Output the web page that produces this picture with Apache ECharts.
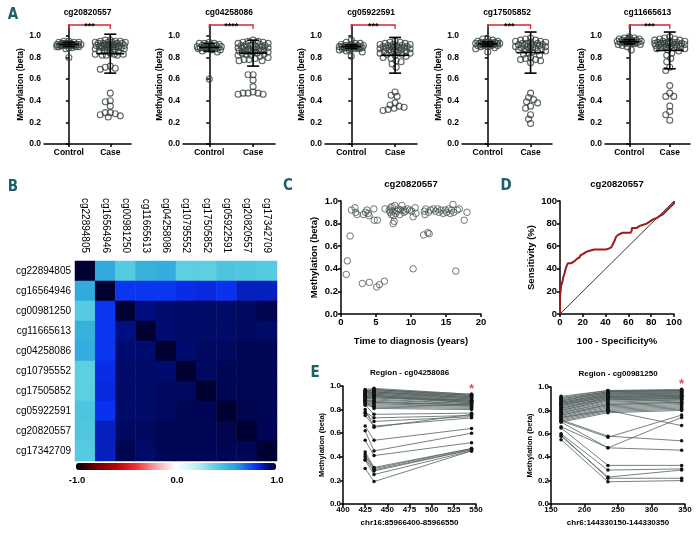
<!DOCTYPE html>
<html><head><meta charset="utf-8">
<script src="https://cdn.jsdelivr.net/npm/echarts@6/dist/echarts.min.js"></script>
<style>html,body{margin:0;padding:0;background:#fff}#c{width:698px;height:533px}</style>
</head><body><div id="c"></div>
<script>
// ---------- DATA ----------
const groupLabels = ['Control', 'Case'];
const aTitles = ['cg20820557', 'cg04258086', 'cg05922591', 'cg17505852', 'cg11665613'];
const sigLabels = ['***', '****', '***', '***', '***'];

const control_cg20820557 = [0.80,0.88,0.89,0.89,0.90,0.90,0.90,0.91,0.91,0.91,0.91,0.92,0.92,0.92,0.92,0.92,0.93,0.93,0.93,0.93,0.94,0.94,0.94,0.95,0.95,0.90,0.91,0.92,0.93,0.91];
const case_cg20820557 = [0.25,0.26,0.27,0.28,0.29,0.29,0.35,0.39,0.40,0.47,0.69,0.70,0.71,0.72,0.82,0.82,0.82,0.83,0.83,0.83,0.84,0.85,0.86,0.86,0.87,0.87,0.88,0.88,0.88,0.89,0.89,0.89,0.89,0.90,0.90,0.90,0.90,0.90,0.91,0.91,0.91,0.91,0.91,0.92,0.92,0.92,0.92,0.92,0.93,0.93,0.93,0.93,0.94,0.94,0.94,0.94,0.95,0.95,0.95,0.96,0.96];
const control_cg04258086 = [0.60,0.85,0.86,0.87,0.87,0.88,0.88,0.88,0.89,0.89,0.89,0.89,0.90,0.90,0.90,0.90,0.91,0.91,0.91,0.92,0.92,0.93,0.93,0.93,0.94,0.88,0.90,0.89];
const case_cg04258086 = [0.46,0.46,0.47,0.47,0.47,0.48,0.53,0.59,0.64,0.64,0.77,0.77,0.78,0.78,0.79,0.80,0.81,0.82,0.82,0.83,0.83,0.84,0.84,0.85,0.85,0.85,0.86,0.86,0.86,0.87,0.87,0.87,0.88,0.88,0.88,0.89,0.89,0.89,0.90,0.90,0.90,0.91,0.91,0.91,0.92,0.92,0.92,0.93,0.93,0.94,0.94,0.95,0.95,0.96];
const control_cg05922591 = [0.81,0.85,0.86,0.87,0.87,0.88,0.88,0.88,0.89,0.89,0.89,0.89,0.90,0.90,0.90,0.90,0.90,0.91,0.91,0.91,0.91,0.92,0.92,0.93,0.93,0.94,0.96,0.89,0.90,0.88];
const case_cg05922591 = [0.31,0.32,0.33,0.34,0.35,0.36,0.38,0.44,0.45,0.48,0.71,0.74,0.76,0.77,0.79,0.80,0.81,0.82,0.83,0.83,0.84,0.84,0.85,0.85,0.86,0.86,0.86,0.87,0.87,0.87,0.88,0.88,0.88,0.89,0.89,0.89,0.90,0.90,0.90,0.90,0.91,0.91,0.91,0.92,0.92,0.92,0.93,0.93,0.94,0.94,0.95];
const control_cg17505852 = [0.85,0.88,0.89,0.90,0.90,0.91,0.91,0.91,0.92,0.92,0.92,0.92,0.93,0.93,0.93,0.93,0.93,0.94,0.94,0.94,0.94,0.95,0.95,0.96,0.97,0.97,0.92,0.93,0.91,0.94];
const case_cg17505852 = [0.19,0.23,0.27,0.33,0.35,0.38,0.39,0.41,0.43,0.47,0.75,0.77,0.78,0.78,0.79,0.80,0.82,0.83,0.84,0.85,0.86,0.86,0.87,0.87,0.88,0.88,0.89,0.89,0.89,0.90,0.90,0.90,0.91,0.91,0.91,0.92,0.92,0.92,0.93,0.93,0.93,0.94,0.94,0.95,0.95,0.96,0.96,0.97,0.98];
const control_cg11665613 = [0.87,0.90,0.91,0.92,0.92,0.93,0.93,0.93,0.94,0.94,0.94,0.94,0.95,0.95,0.95,0.95,0.96,0.96,0.96,0.97,0.97,0.98,0.98,0.99,0.94,0.95,0.93,0.96];
const case_cg11665613 = [0.22,0.27,0.30,0.35,0.44,0.44,0.47,0.54,0.68,0.71,0.76,0.79,0.82,0.84,0.86,0.87,0.88,0.88,0.89,0.89,0.90,0.90,0.90,0.91,0.91,0.91,0.92,0.92,0.92,0.93,0.93,0.93,0.93,0.94,0.94,0.94,0.95,0.95,0.95,0.96,0.96,0.97,0.97,0.98,0.99,0.90,0.92,0.94,0.91,0.93];

const meanControl = [0.92, 0.893, 0.90, 0.925, 0.945];
const sdControl   = [0.02, 0.037, 0.017, 0.02, 0.02];
const meanCase    = [0.835, 0.84, 0.82, 0.845, 0.865];
const sdCase      = [0.18, 0.12, 0.165, 0.19, 0.17];

const hmLabels = ['cg22894805','cg16564946','cg00981250','cg11665613','cg04258086','cg10795552','cg17505852','cg05922591','cg20820557','cg17342709'];
const corrMatrix = [
  [1.00,0.56,0.42,0.53,0.55,0.40,0.40,0.45,0.44,0.42],
  [0.56,1.00,0.79,0.79,0.79,0.81,0.82,0.80,0.85,0.85],
  [0.42,0.79,1.00,0.91,0.93,0.94,0.94,0.94,0.95,0.97],
  [0.53,0.79,0.91,1.00,0.93,0.94,0.94,0.94,0.95,0.94],
  [0.55,0.79,0.93,0.93,1.00,0.93,0.95,0.95,0.96,0.96],
  [0.40,0.81,0.94,0.94,0.93,1.00,0.95,0.96,0.96,0.96],
  [0.40,0.82,0.94,0.94,0.95,0.95,1.00,0.96,0.96,0.96],
  [0.45,0.80,0.94,0.94,0.95,0.96,0.96,1.00,0.97,0.96],
  [0.44,0.85,0.95,0.95,0.96,0.96,0.96,0.97,1.00,0.96],
  [0.42,0.85,0.97,0.94,0.96,0.96,0.96,0.96,0.96,1.00]
];
const colorbarTicks = ['-1.0', '0.0', '1.0'];

const cTime = [0.75,0.9,1.3,1.5,2.0,2.1,2.3,3.05,3.2,3.5,3.7,3.9,4.0,4.05,4.7,4.75,5.1,5.2,5.5,6.2,6.3,6.9,7.0,7.1,7.2,7.3,7.4,7.45,7.5,7.6,7.7,7.8,8.0,8.2,8.4,8.5,8.7,8.9,9.0,9.2,9.5,9.8,10.1,10.3,10.3,10.6,10.7,11.8,11.9,12.0,12.1,12.4,12.5,12.6,12.8,13.2,13.5,13.8,14.0,14.3,14.6,14.9,15.1,15.4,15.6,15.8,16.0,16.1,16.4,16.6,16.9,17.6,18.0];
const cBeta = [0.35,0.47,0.69,0.92,0.94,0.90,0.88,0.27,0.88,0.90,0.92,0.89,0.87,0.28,0.93,0.83,0.24,0.83,0.26,0.29,0.93,0.92,0.90,0.94,0.88,0.95,0.91,0.80,0.87,0.82,0.96,0.89,0.91,0.93,0.88,0.92,0.96,0.92,0.90,0.91,0.93,0.92,0.91,0.86,0.40,0.94,0.89,0.70,0.91,0.88,0.93,0.72,0.90,0.71,0.92,0.93,0.91,0.93,0.90,0.92,0.89,0.92,0.90,0.93,0.89,0.92,0.97,0.90,0.38,0.92,0.93,0.83,0.90];

const rocFpr = [0,0,0.5,0.5,1,1,2,2,3,3,4,4,5,5,6,6,7,7,10,10,13,15,17,18,20,23,26,30,35,40,43,45,46,47,48,49,51,53,55,62,63,63,67,68,70,73,76,79,82,85,88,90,92,94,96,97,98,99,100,100];
const rocTpr = [0,15,15,20,20,25,25,28,28,33,33,36,36,40,40,43,43,45,45,46,47,49,50,52,53,55,56,57,57,57,58,59,61,62,65,68,70,71,72,72,74,76,76,77,78,79,80,82,84,85,87,88,90,92,94,95,96,97,98,100];
const refDiag = [[0,0],[100,100]];

const eLeftPos = [425, 435, 545];
const eL_425 = [0.97,0.96,0.96,0.95,0.95,0.94,0.94,0.93,0.93,0.92,0.92,0.91,0.91,0.90,0.90,0.89,0.89,0.88,0.88,0.87,0.86,0.86,0.85,0.84,0.90,0.93,0.95,0.88,0.91,0.87,0.84,0.78,0.77,0.75,0.80,0.66,0.62,0.54,0.44,0.42,0.40,0.38,0.37,0.30];
const eL_435 = [0.98,0.97,0.97,0.96,0.96,0.95,0.95,0.94,0.94,0.93,0.93,0.92,0.92,0.91,0.91,0.90,0.89,0.88,0.87,0.86,0.85,0.84,0.83,0.82,0.90,0.95,0.97,0.86,0.92,0.81,0.76,0.73,0.70,0.66,0.65,0.54,0.45,0.41,0.31,0.30,0.29,0.28,0.25,0.19];
const eL_545 = [0.93,0.93,0.92,0.92,0.91,0.91,0.90,0.90,0.89,0.89,0.88,0.88,0.87,0.87,0.86,0.86,0.85,0.85,0.84,0.84,0.83,0.83,0.82,0.81,0.88,0.90,0.92,0.84,0.86,0.80,0.77,0.75,0.74,0.73,0.76,0.64,0.60,0.52,0.47,0.47,0.46,0.46,0.45,0.45];
const eRightPos = [165, 235, 345];
const eR_165 = [0.92,0.91,0.90,0.90,0.89,0.88,0.87,0.87,0.86,0.85,0.85,0.84,0.83,0.82,0.82,0.81,0.80,0.79,0.78,0.78,0.77,0.76,0.75,0.74,0.73,0.72,0.71,0.70,0.88,0.86,0.84,0.80,0.76,0.74,0.72,0.71,0.70,0.66,0.65,0.60,0.58,0.59,0.55];
const eR_235 = [0.97,0.97,0.96,0.96,0.95,0.95,0.94,0.94,0.93,0.93,0.92,0.92,0.91,0.91,0.90,0.90,0.89,0.88,0.87,0.86,0.85,0.84,0.83,0.82,0.81,0.80,0.79,0.78,0.96,0.94,0.92,0.89,0.85,0.80,0.58,0.57,0.48,0.48,0.33,0.29,0.23,0.22,0.19];
const eR_345 = [0.98,0.97,0.97,0.96,0.96,0.95,0.95,0.94,0.94,0.93,0.93,0.92,0.92,0.91,0.91,0.90,0.90,0.89,0.89,0.88,0.87,0.86,0.85,0.84,0.83,0.82,0.81,0.80,0.97,0.95,0.93,0.90,0.87,0.67,0.54,0.76,0.74,0.46,0.33,0.30,0.29,0.22,0.20];
const eLeftStar = [[545, 0.995]];
const eRightStar = [[345, 1.045]];

// ---------- STYLE / LAYOUT ----------
const FONT = "'Liberation Sans', Arial, sans-serif";
const TEAL = '#1d6167';
const AX = {color:'#000', width:1.5};
const heatColors = ['#0a0000','#3a0000','#6a0000','#900000','#b80000','#d81818','#f03030','#f46868','#f8a8a8','#fcd4d4','#ffffff',
                    '#e0f8f8','#c0f0f2','#90e0ea','#5ccfe0','#40b8de','#28a0dc','#1868e6','#0a30f0','#00108a','#000033'];

const option = {animation:false, grid:[], xAxis:[], yAxis:[], series:[], graphic:[], visualMap:[]};
function txt(x, y, text, size, weight, color, family) {
  option.graphic.push({type:'text', x:x, y:y, silent:true, style:{text:text, fontSize:size, fontWeight:weight||'normal', fontFamily:family||FONT, fill:color||'#000', align:'center', verticalAlign:'middle'}});
}
function lbl(size){ return {color:'#000', fontSize:size, fontWeight:'bold', fontFamily:FONT}; }

function swarm(vals, pxY, maxHalf, D) {
  const idx = vals.map((v,i)=>i).sort((a,b)=>vals[b]-vals[a]);
  const placed = [], off = new Array(vals.length);
  for (const i of idx) {
    const y = vals[i]*pxY;
    let best = 0, bestScore = -1;
    for (let k = 0; k <= 2*maxHalf; k++) {
      const o = k === 0 ? 0 : (k % 2 ? -(k+1)/2 : k/2);
      let md = Infinity;
      for (const p of placed) { const d = Math.hypot(p[0]-o, p[1]-y); if (d < md) md = d; }
      if (md >= D) { best = o; bestScore = md; break; }
      if (md > bestScore + 0.3) { bestScore = md; best = o; }
    }
    off[i] = best; placed.push([best, y]);
  }
  return off;
}

// ---------- PANEL A ----------
const aControls = [control_cg20820557, control_cg04258086, control_cg05922591, control_cg17505852, control_cg11665613];
const aCases = [case_cg20820557, case_cg04258086, case_cg05922591, case_cg17505852, case_cg11665613];
const aLayout = [[44,87],[183,92],[325,92],[462,90],[605,85]];
const aTop = 25, aH = 119, aYMax = 1.1, aXMin = -0.6, aXMax = 1.5;
const yTicksA = [0,0.2,0.4,0.6,0.8,1.0];
aLayout.forEach(([gl, gw], i) => {
  const g = option.grid.length;
  option.grid.push({left:gl, top:aTop, width:gw, height:aH});
  option.xAxis.push({gridIndex:g, type:'value', min:aXMin, max:aXMax,
    axisLine:{lineStyle:AX}, splitLine:{show:false},
    axisTick:{customValues:[0,1], length:3, lineStyle:AX},
    axisLabel:{customValues:[0,1], formatter:v=>groupLabels[Math.round(v)], margin:4, ...lbl(8.5)}});
  option.yAxis.push({gridIndex:g, type:'value', min:0, max:aYMax,
    name:'Methylation (beta)', nameLocation:'middle', nameGap:19, nameTextStyle:lbl(8.5),
    axisLine:{show:true, lineStyle:AX}, splitLine:{show:false},
    axisTick:{show:true, customValues:yTicksA, length:3, lineStyle:AX},
    axisLabel:{customValues:yTicksA, formatter:v=>v.toFixed(1), margin:3, ...lbl(8.5)}});
  const pxX = gw/(aXMax-aXMin), pxY = aH/aYMax;
  const ctrl = aControls[i], cas = aCases[i];
  const offC = swarm(ctrl, pxY, 12, 4.6), offK = swarm(cas, pxY, 15, 4.6);
  const pts = ctrl.map((v,j)=>[offC[j]/pxX, v]).concat(cas.map((v,j)=>[1+offK[j]/pxX, v]));
  option.series.push({type:'scatter', xAxisIndex:g, yAxisIndex:g, data:pts, symbol:'circle', symbolSize:6,
    itemStyle:{color:'rgba(255,255,255,0)', borderColor:'#33403f', borderWidth:1.1}, silent:true, z:2});
  option.series.push({type:'custom', xAxisIndex:g, yAxisIndex:g, z:5, silent:true,
    encode:{x:0, y:1},
    data:[[0, meanControl[i], sdControl[i], 10, 6],[1, meanCase[i], sdCase[i], 14, 6]],
    renderItem:(params, api) => {
      const x = api.value(0), m = api.value(1), s = api.value(2), hw = api.value(3), cw = api.value(4);
      const pm = api.coord([x,m]), pt = api.coord([x,m+s]), pb = api.coord([x,m-s]);
      const st = {stroke:'#000', lineWidth:1.6};
      return {type:'group', children:[
        {type:'line', shape:{x1:pm[0]-hw,y1:pm[1],x2:pm[0]+hw,y2:pm[1]}, style:st},
        {type:'line', shape:{x1:pt[0],y1:pt[1],x2:pb[0],y2:pb[1]}, style:st},
        {type:'line', shape:{x1:pt[0]-cw,y1:pt[1],x2:pt[0]+cw,y2:pt[1]}, style:st},
        {type:'line', shape:{x1:pb[0]-cw,y1:pb[1],x2:pb[0]+cw,y2:pb[1]}, style:st}
      ]};
    }});
  const sig = sigLabels[i];
  option.series.push({type:'custom', xAxisIndex:g, yAxisIndex:g, z:6, silent:true, clip:false,
    encode:{x:0, y:1}, data:[[0.5, aYMax]],
    renderItem:(params, api) => {
      const a = api.coord([0, aYMax]), b = api.coord([1, aYMax]);
      return {type:'group', children:[
        {type:'polyline', shape:{points:[[a[0],a[1]+4],[a[0],a[1]],[b[0],b[1]],[b[0],b[1]+4]]}, style:{stroke:'#d8262a', lineWidth:1.3, fill:null}},
        {type:'text', style:{text:sig, x:(a[0]+b[0])/2, y:a[1]+1.5, align:'center', verticalAlign:'middle', fontSize:9, fontWeight:'bold', fontFamily:FONT, fill:'#000'}}
      ]};
    }});
  txt(gl + gw/2, 13, aTitles[i], 8.5, 'bold');
});

// ---------- PANEL B ----------
{
  const g = option.grid.length;
  option.grid.push({left:75, top:261, width:202, height:200});
  option.xAxis.push({gridIndex:g, type:'category', data:hmLabels, position:'top',
    axisLine:{show:false}, axisTick:{show:false}, splitLine:{show:false},
    axisLabel:{rotate:90, margin:8, color:'#000', fontSize:10, fontFamily:FONT, interval:0}});
  option.yAxis.push({gridIndex:g, type:'category', data:hmLabels, inverse:true,
    axisLine:{show:false}, axisTick:{show:false}, splitLine:{show:false},
    axisLabel:{margin:4, color:'#000', fontSize:10, fontFamily:FONT, interval:0}});
  const hm = [];
  corrMatrix.forEach((row, r) => row.forEach((v, c) => hm.push([c, r, v])));
  const si = option.series.length;
  option.series.push({type:'heatmap', xAxisIndex:g, yAxisIndex:g, data:hm, silent:true, emphasis:{disabled:true}, itemStyle:{borderWidth:0}});
  option.visualMap.push({type:'continuous', min:-1, max:1, seriesIndex:si, orient:'horizontal',
    left:76, top:463, itemWidth:7, itemHeight:200, calculable:false, padding:0, text:null, hoverLink:false,
    inRange:{color:heatColors}});
  txt(77, 480, colorbarTicks[0], 9.5, 'bold');
  txt(177, 480, colorbarTicks[1], 9.5, 'bold');
  txt(277, 480, colorbarTicks[2], 9.5, 'bold');
}

// ---------- PANEL C ----------
{
  const g = option.grid.length;
  option.grid.push({left:341, top:201, width:140, height:113});
  option.xAxis.push({gridIndex:g, type:'value', min:0, max:20, interval:5,
    name:'Time to diagnosis (years)', nameLocation:'middle', nameGap:22, nameTextStyle:lbl(9.5),
    axisLine:{lineStyle:AX}, axisTick:{length:3, lineStyle:AX}, splitLine:{show:false},
    axisLabel:{margin:3, ...lbl(9.5)}});
  option.yAxis.push({gridIndex:g, type:'value', min:0, max:1, interval:0.2,
    name:'Methylation (beta)', nameLocation:'middle', nameGap:22, nameTextStyle:lbl(9.5),
    axisLine:{show:true, lineStyle:AX}, axisTick:{show:true, length:3, lineStyle:AX}, splitLine:{show:false},
    axisLabel:{margin:3, formatter:v=>v.toFixed(1), ...lbl(9.5)}});
  option.series.push({type:'scatter', xAxisIndex:g, yAxisIndex:g, data:cTime.map((t,i)=>[t, cBeta[i]]),
    symbolSize:6.5, itemStyle:{color:'rgba(255,255,255,0)', borderColor:'#4a5656', borderWidth:1}, silent:true});
  txt(411, 184, 'cg20820557', 9.5, 'bold');
}

// ---------- PANEL D ----------
{
  const g = option.grid.length;
  option.grid.push({left:560, top:201, width:114, height:113});
  option.xAxis.push({gridIndex:g, type:'value', min:0, max:100, interval:20,
    name:'100 - Specificity%', nameLocation:'middle', nameGap:22, nameTextStyle:lbl(9.5),
    axisLine:{lineStyle:AX}, axisTick:{length:3, lineStyle:AX}, splitLine:{show:false},
    axisLabel:{margin:3, ...lbl(9.5)}});
  option.yAxis.push({gridIndex:g, type:'value', min:0, max:100, interval:20,
    name:'Sensitivity (%)', nameLocation:'middle', nameGap:24, nameTextStyle:lbl(9.5),
    axisLine:{show:true, lineStyle:AX}, axisTick:{show:true, length:3, lineStyle:AX}, splitLine:{show:false},
    axisLabel:{margin:3, ...lbl(9.5)}});
  option.series.push({type:'line', xAxisIndex:g, yAxisIndex:g, data:refDiag, symbol:'none', silent:true,
    lineStyle:{color:'#000', width:0.8}});
  option.series.push({type:'line', xAxisIndex:g, yAxisIndex:g, data:rocFpr.map((x,i)=>[x, rocTpr[i]]), symbol:'none', silent:true,
    lineStyle:{color:'#9e1b1b', width:2}});
  txt(617, 184, 'cg20820557', 9.5, 'bold');
}

// ---------- PANEL E ----------
function ePanel(left, top, width, height, xmin, xmax, xint, pos, cols, xname, title, star) {
  const g = option.grid.length;
  option.grid.push({left:left, top:top, width:width, height:height});
  option.xAxis.push({gridIndex:g, type:'value', min:xmin, max:xmax, interval:xint,
    name:xname, nameLocation:'middle', nameGap:15, nameTextStyle:lbl(8),
    axisLine:{lineStyle:AX}, axisTick:{length:3, lineStyle:AX}, splitLine:{show:false},
    axisLabel:{margin:2, ...lbl(8)}});
  option.yAxis.push({gridIndex:g, type:'value', min:0, max:1, interval:0.2,
    name:'Methylation (beta)', nameLocation:'middle', nameGap:17, nameTextStyle:lbl(7.5),
    axisLine:{show:true, lineStyle:AX}, axisTick:{show:true, length:3, lineStyle:AX}, splitLine:{show:false},
    axisLabel:{margin:2, formatter:v=>v.toFixed(1), ...lbl(8)}});
  cols[0].forEach((_, s) => {
    option.series.push({type:'line', xAxisIndex:g, yAxisIndex:g, silent:true,
      data:pos.map((p, k)=>[p, cols[k][s]]), symbol:'circle', symbolSize:3.5,
      itemStyle:{color:'#111'}, lineStyle:{color:'#566262', width:0.8}});
  });
  option.series.push({type:'scatter', xAxisIndex:g, yAxisIndex:g, data:star, symbolSize:1, clip:false, silent:true,
    itemStyle:{color:'rgba(0,0,0,0)'},
    label:{show:true, position:'inside', formatter:'*', color:'#d8262a', fontSize:13, fontWeight:'bold', fontFamily:FONT, offset:[0,3]}});
  txt(left + width/2, top - 13, title, 8, 'bold');
}
ePanel(343, 386, 133, 118, 400, 550, 25, eLeftPos, [eL_425, eL_435, eL_545], 'chr16:85966400-85966550', 'Region - cg04258086', eLeftStar);
ePanel(551, 387, 134, 117, 150, 350, 50, eRightPos, [eR_165, eR_235, eR_345], 'chr6:144330150-144330350', 'Region - cg00981250', eRightStar);

// ---------- PANEL LETTERS ----------
const LF = "'DejaVu Sans Condensed', 'DejaVu Sans', sans-serif";
txt(13, 15, 'A', 15, 'bold', TEAL, LF);
txt(13, 187, 'B', 15, 'bold', TEAL, LF);
txt(288, 186, 'C', 15, 'bold', TEAL, LF);
txt(506, 186, 'D', 15, 'bold', TEAL, LF);
txt(315, 373, 'E', 15, 'bold', TEAL, LF);

const chart = echarts.init(document.getElementById('c'), null, {renderer:'canvas', width:698, height:533});
chart.setOption(option);
</script></body></html>
